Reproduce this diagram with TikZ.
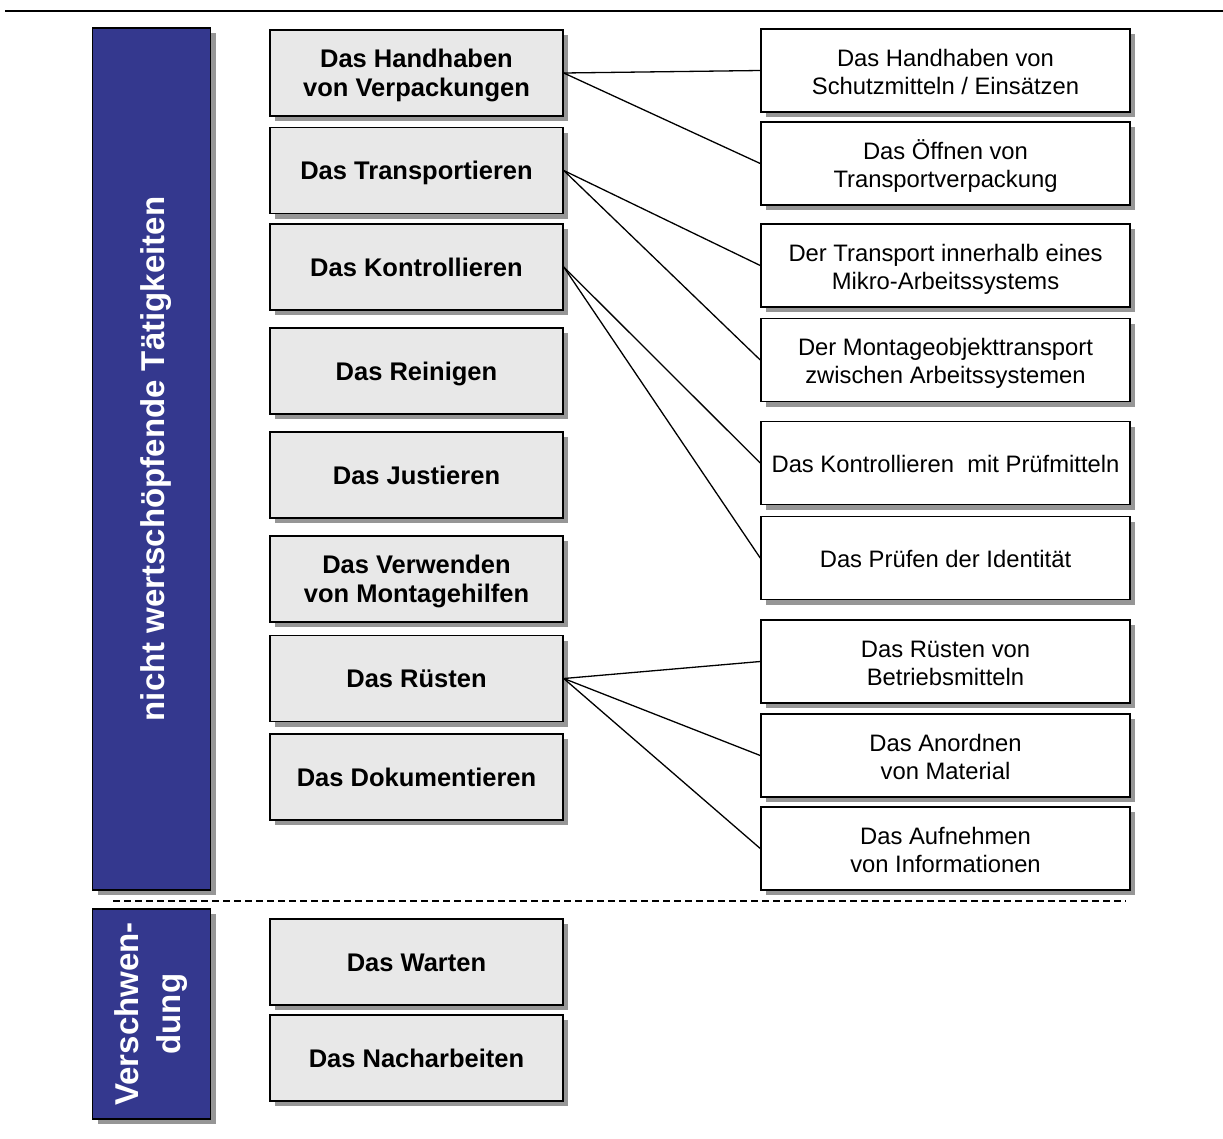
\documentclass[tikz,border=0pt]{standalone}
\usepackage{fontspec}
\setmainfont{Liberation Sans}
\usetikzlibrary{shadows}
\definecolor{barblue}{RGB}{52,56,142}
\definecolor{boxgray}{RGB}{232,232,232}
\definecolor{shadowgray}{RGB}{150,150,150}

\begin{document}
\begin{tikzpicture}[x=1pt,y=-1pt,
  shadowed/.style={drop shadow={shadow xshift=5pt,shadow yshift=-5pt,fill=shadowgray,opacity=1}},
  activity/.style={draw=black,line width=1.5pt,fill=boxgray,shadowed,
    minimum width=293pt,minimum height=86pt,inner sep=0pt,align=center,
    text height=18.3pt,text depth=0pt,
    font=\bfseries\fontsize{25.5}{29.5}\selectfont},
  twolines/.style={text height=47.8pt},
  detail/.style={draw=black,line width=1.5pt,fill=white,shadowed,
    minimum width=369pt,minimum height=83pt,inner sep=0pt,align=center,
    text height=19pt,text depth=0pt,
    font=\fontsize{23.8}{28}\selectfont},
  twodetail/.style={text height=47pt},
  category/.style={draw=black,line width=1.5pt,fill=barblue,text=white,shadowed,
    rotate=90,minimum height=118pt,inner sep=0pt,align=center,
    font=\bfseries\fontsize{33}{42}\selectfont},
  link/.style={draw=black,line width=1.3pt},
  separator/.style={draw=black,line width=1.3pt,dash pattern=on 7pt off 4pt},
  rule/.style={draw=black,line width=2.2pt}]
\useasboundingbox (0,0) rectangle (1223,1138);

% header rule and separator
\coordinate (ruleL) at (5,11);
\coordinate (ruleR) at (1223,11);
\draw[rule] (ruleL) -- (ruleR);
\coordinate (sepL) at (113,901);
\coordinate (sepR) at (1126,901);
\draw[separator] (sepL) -- (sepR);

% categories
\node[category,minimum width=862pt,text height=25pt,text depth=0pt] (cat1) at (151.5,459) {nicht wertschöpfende Tätigkeiten};
\node[category,minimum width=210pt] (cat2) at (151.5,1014) {Verschwen-\\dung};

% activities
\node[activity,twolines] (a1) at (416.5,73)    {Das Handhaben\\von Verpackungen};
\node[activity] (a2) at (416.5,170.5) {Das Transportieren};
\node[activity] (a3) at (416.5,267)   {Das Kontrollieren};
\node[activity] (a4) at (416.5,371)   {Das Reinigen};
\node[activity] (a5) at (416.5,475)   {Das Justieren};
\node[activity,twolines] (a6) at (416.5,579)   {Das Verwenden\\von Montagehilfen};
\node[activity] (a7) at (416.5,678.5) {Das Rüsten};
\node[activity] (a8) at (416.5,777)   {Das Dokumentieren};
\node[activity] (a9) at (416.5,962)   {Das Warten};
\node[activity] (a10) at (416.5,1058) {Das Nacharbeiten};

% details
\node[detail,twodetail] (d1) at (945.5,70.5)  {Das Handhaben von\\Schutzmitteln / Einsätzen};
\node[detail,twodetail] (d2) at (945.5,163.5) {Das Öffnen von\\Transportverpackung};
\node[detail,twodetail] (d3) at (945.5,265.5) {Der Transport innerhalb eines\\Mikro-Arbeitssystems};
\node[detail,twodetail] (d4) at (945.5,360)   {Der Montageobjekttransport\\zwischen Arbeitssystemen};
\node[detail] (d5) at (945.5,463)   {Das Kontrollieren\ \ mit Prüfmitteln};
\node[detail] (d6) at (945.5,558)   {Das Prüfen der Identität};
\node[detail,twodetail] (d7) at (945.5,661.5) {Das Rüsten von\\Betriebsmitteln};
\node[detail,twodetail] (d8) at (945.5,755.5) {Das Anordnen\\von Material};
\node[detail,twodetail] (d9) at (945.5,848.5) {Das Aufnehmen\\von Informationen};

% connectors
\draw[link] (a1.east) -- (d1.west);
\draw[link] (a1.east) -- (d2.west);
\draw[link] (a2.east) -- (d3.west);
\draw[link] (a2.east) -- (d4.west);
\draw[link] (a3.east) -- (d5.west);
\draw[link] (a3.east) -- (d6.west);
\draw[link] (a7.east) -- (d7.west);
\draw[link] (a7.east) -- (d8.west);
\draw[link] (a7.east) -- (d9.west);
\end{tikzpicture}
\end{document}
